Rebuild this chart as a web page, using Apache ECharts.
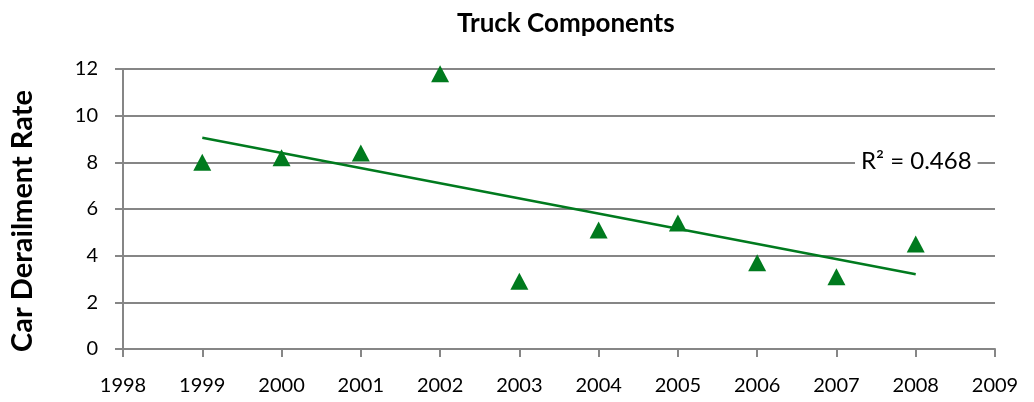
<!DOCTYPE html>
<html>
<head>
<meta charset="utf-8">
<script src="https://cdn.jsdelivr.net/npm/echarts@6/dist/echarts.min.js"></script>
<style>
html,body{margin:0;padding:0;background:#fff;}
#chart{width:1034px;height:402px;}
</style>
</head>
<body>
<div id="chart"></div>
<script>
var years = [1999, 2000, 2001, 2002, 2003, 2004, 2005, 2006, 2007, 2008];
var rates = [8.0, 8.2, 8.4, 11.8, 2.9, 5.1, 5.4, 3.7, 3.1, 4.5];
var trendYears = [1999, 2008];
var trendValues = [9.05, 3.2];
var rSquaredText = 'R\u00b2 = 0.468';

var fontName = 'Lato, "Open Sans", sans-serif';
var chart = echarts.init(document.getElementById('chart'));
var option = {
	backgroundColor:'#fff',
	animation:false,
	title:{
		text:'Truck Components',
		left:452,
		top:6,
		textStyle:{
			fontFamily:fontName,
			fontWeight:'bold',
			fontSize:26,
			color:'#000'
		}
	},
	grid:{
		left:121,
		right:39,
		top:69,
		bottom:53
	},
	xAxis:{
		type:'value',
		min:1998,
		max:2009,
		interval:1,
		splitLine:{show:false},
		axisLine:{lineStyle:{color:'#868686',width:2}},
		axisTick:{show:true,length:8,lineStyle:{color:'#868686',width:2}},
		axisLabel:{
			margin:27,
			fontFamily:fontName,
			fontSize:20,
			color:'#000',
			formatter:function(v){return String(v);}
		}
	},
	yAxis:{
		type:'value',
		min:0,
		max:12,
		interval:2,
		name:'Car Derailment Rate',
		nameLocation:'middle',
		nameGap:86,
		nameTextStyle:{
			fontFamily:fontName,
			fontWeight:'bold',
			fontSize:29,
			color:'#000',
			padding:[0,24,0,0]
		},
		axisLine:{show:true,lineStyle:{color:'#868686',width:2}},
		axisTick:{show:true,length:8,lineStyle:{color:'#868686',width:2}},
		splitLine:{lineStyle:{color:'#868686',width:2}},
		axisLabel:{
			margin:25,
			fontFamily:fontName,
			fontSize:20,
			color:'#000'
		}
	},
	series:[{
		type:'line',
		data:trendYears.map(function(y,i){return [y,trendValues[i]];}),
		symbol:'none',
		lineStyle:{color:'#007a1e',width:2.5},
		z:2
	},{
		type:'scatter',
		data:years.map(function(y,i){return [y,rates[i]];}),
		symbol:'triangle',
		symbolSize:[18,17],
		itemStyle:{color:'#007a1e',opacity:1},
		z:3
	}],
	graphic:[{
		type:'text',
		left:855,
		top:147,
		z:10,
		style:{
			text:rSquaredText,
			fontFamily:fontName,
			fontSize:24,
			fill:'#000',
			backgroundColor:'#fff',
			padding:[2,6,2,6]
		}
	}]
};
chart.setOption(option);
</script>
</body>
</html>
